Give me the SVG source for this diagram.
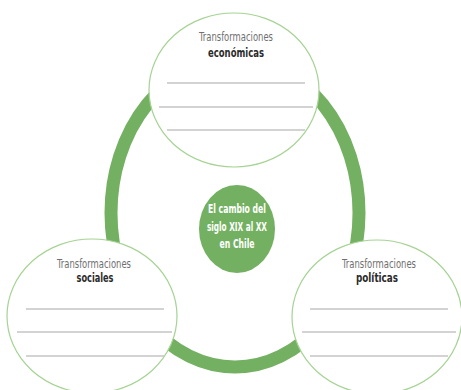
<svg xmlns="http://www.w3.org/2000/svg" width="461" height="390" viewBox="0 0 461 390">
<style>
.bubble{fill:#ffffff;stroke:#a6d394;stroke-width:1.2}
.rule{stroke:#c4c4c4;stroke-width:1.6}
.lt{font-family:"Liberation Sans Narrow","DejaVu Sans Condensed","Liberation Sans",sans-serif;font-size:13px;fill:#707070;text-anchor:middle}
.bd{font-family:"Liberation Sans Narrow","DejaVu Sans Condensed","Liberation Sans",sans-serif;font-size:13px;font-weight:bold;fill:#2b2b2b;text-anchor:middle}
.ct{font-family:"Liberation Sans Narrow","DejaVu Sans Condensed","Liberation Sans",sans-serif;font-size:13px;font-weight:bold;fill:#ffffff;text-anchor:middle}
</style>
<rect width="461" height="390" fill="#ffffff"/>
<g id="connectors">
<ellipse cx="235" cy="213" rx="124" ry="154" fill="none" stroke="#74b062" stroke-width="13"/>
</g>
<g id="center">
<ellipse cx="237" cy="229" rx="38" ry="44" fill="#74b062"/>
<text class="ct" x="237" y="213" textLength="58" lengthAdjust="spacingAndGlyphs">El cambio del</text>
<text class="ct" x="237" y="231" textLength="60" lengthAdjust="spacingAndGlyphs">siglo XIX al XX</text>
<text class="ct" x="237" y="248" textLength="35" lengthAdjust="spacingAndGlyphs">en Chile</text>
</g>
<g id="economicas">
<ellipse class="bubble" cx="234" cy="90" rx="85" ry="77"/>
<text class="lt" x="236" y="41" textLength="74" lengthAdjust="spacingAndGlyphs">Transformaciones</text>
<text class="bd" x="236" y="57" textLength="56" lengthAdjust="spacingAndGlyphs">económicas</text>
<line class="rule" x1="167" y1="83" x2="305" y2="83"/>
<line class="rule" x1="159" y1="107" x2="313" y2="107"/>
<line class="rule" x1="167" y1="130" x2="305" y2="130"/>
</g>
<g id="sociales">
<ellipse class="bubble" cx="92" cy="316" rx="85" ry="77"/>
<text class="lt" x="94" y="268" textLength="74" lengthAdjust="spacingAndGlyphs">Transformaciones</text>
<text class="bd" x="95" y="282" textLength="37" lengthAdjust="spacingAndGlyphs">sociales</text>
<line class="rule" x1="26" y1="309" x2="164" y2="309"/>
<line class="rule" x1="17" y1="332" x2="172" y2="332"/>
<line class="rule" x1="26" y1="356" x2="164" y2="356"/>
</g>
<g id="politicas">
<ellipse class="bubble" cx="377" cy="317" rx="85" ry="77"/>
<text class="lt" x="379" y="268" textLength="74" lengthAdjust="spacingAndGlyphs">Transformaciones</text>
<text class="bd" x="377" y="282" textLength="42" lengthAdjust="spacingAndGlyphs">políticas</text>
<line class="rule" x1="310" y1="309" x2="448" y2="309"/>
<line class="rule" x1="302" y1="332" x2="456" y2="332"/>
<line class="rule" x1="310" y1="356" x2="448" y2="356"/>
</g>
</svg>
